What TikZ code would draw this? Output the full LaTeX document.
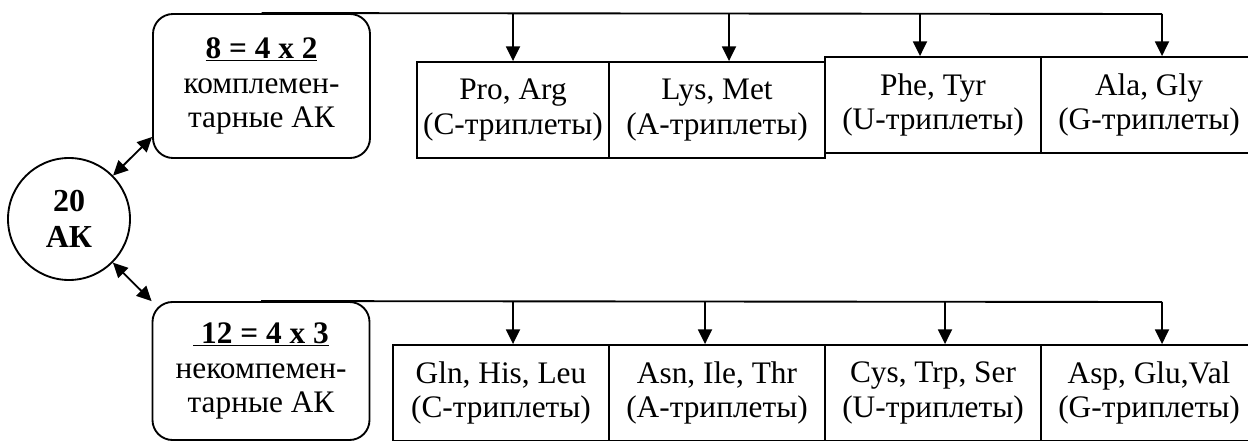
\documentclass[tikz,border=0pt]{standalone}
\usepackage{fontspec}
\setmainfont{Liberation Serif}
\usetikzlibrary{arrows.meta}
\begin{document}
\begin{tikzpicture}[x=.75pt,y=-.75pt,line width=1.4pt,
  txt/.style={font=\fontsize{23.5}{26}\selectfont,align=center,inner sep=0pt},
  cell/.style={txt,draw,rectangle,minimum height=72pt,minimum width=162pt},
  group/.style={txt,draw,rounded corners=15pt,minimum width=162.75pt},
  drop/.style={-{Triangle[length=11pt,width=10.5pt]}},
  link/.style={{Triangle[length=11pt,width=10.5pt]}-{Triangle[length=11pt,width=10.5pt]}}]
\useasboundingbox (0,0) rectangle (1248,441);
\clip (0,0) rectangle (1248,441);
\node[txt,draw,circle,minimum size=91.5pt,font=\fontsize{24}{27}\selectfont\bfseries]
  (all) at (69,219) {20\\АК};
\node[group,minimum height=108pt] (compl) at (261.5,86)
  {\underline{\textbf{8 = 4 x 2}}\\комплемен-\\тарные АК};
\node[group,minimum height=103.5pt] (noncompl) at (261,371)
  {\underline{\textbf{\ 12 = 4 x 3}}\\некомпемен-\\тарные АК};
\node[cell,minimum width=144pt] (pro) at (513,110) {Pro, Arg\\(С-триплеты)};
\node[cell] (lys) at (717,110) {Lys, Met\\(А-триплеты)};
\node[cell] (phe) at (933,105) {Phe, Tyr\\(U-триплеты)};
\node[cell] (ala) at (1149,105) {Ala, Gly\\(G-триплеты)};
\node[cell] (gln) at (501,393) {Gln, His, Leu\\(С-триплеты)};
\node[cell] (asn) at (717,393) {Asn, Ile, Thr\\(А-триплеты)};
\node[cell] (cys) at (933,393) {Cys, Trp, Ser\\(U-триплеты)};
\node[cell] (asp) at (1149,393) {Asp, Glu,Val\\(G-триплеты)};
\draw[link] (all) -- (compl.205);
\draw[link] (all) -- (noncompl.north west);
% upper bus
\coordinate (t1) at (513,14);
\coordinate (t2) at (729,14);
\coordinate (t3) at (920,14);
\coordinate (t4) at (1162,14);
\draw (compl.north) -- (t4);
\draw[drop] (t1) -- (t1 |- pro.north);
\draw[drop] (t2) -- (t2 |- lys.north);
\draw[drop] (t3) -- (t3 |- phe.north);
\draw[drop] (t4) -- (t4 |- ala.north);
% lower bus
\coordinate (b1) at (513,302);
\coordinate (b2) at (705,302);
\coordinate (b3) at (945,302);
\coordinate (b4) at (1162,302);
\draw (noncompl.north) -- (b4);
\draw[drop] (b1) -- (b1 |- gln.north);
\draw[drop] (b2) -- (b2 |- asn.north);
\draw[drop] (b3) -- (b3 |- cys.north);
\draw[drop] (b4) -- (b4 |- asp.north);
\end{tikzpicture}
\end{document}
